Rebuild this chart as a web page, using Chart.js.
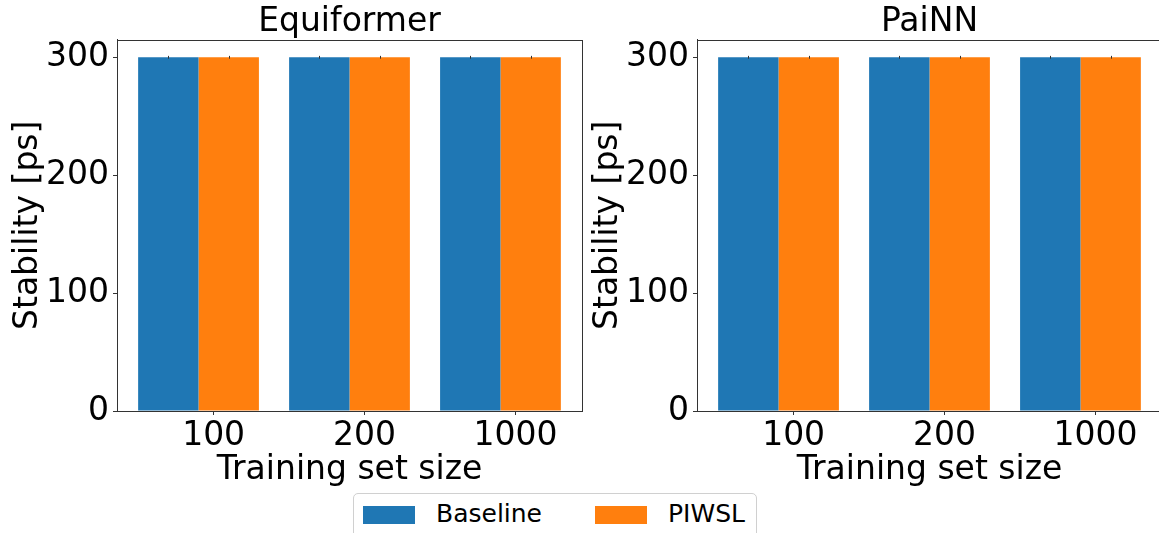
<!DOCTYPE html>
<html>
<head>
<meta charset="utf-8">
<script src="https://cdn.jsdelivr.net/npm/chart.js@4.4.0/dist/chart.umd.min.js"></script>
<style>
  body { margin: 0; width: 1159px; height: 533px; overflow: hidden; background: #fff; position: relative; font-family: "DejaVu Sans", sans-serif; }
  .box { position: absolute; top: 0; width: 590px; height: 490px; }
  #legend { position: absolute; left: 353px; top: 493px; width: 402px; height: 50px; border: 1px solid #d0d0d0; border-radius: 5px; background: #fff; }
  .sw { position: absolute; top: 12px; width: 52px; height: 18px; }
  .lt { position: absolute; top: 5px; font-size: 25px; color: #000; line-height: 30px; }
</style>
</head>
<body>
<div class="box" style="left:0px"><canvas id="chartA"></canvas></div>
<div class="box" style="left:580px"><canvas id="chartB"></canvas></div>
<div id="legend">
  <div class="sw" style="left:9px;background:#1f77b4"></div><div class="lt" style="left:82px">Baseline</div>
  <div class="sw" style="left:241px;background:#ff7f0e"></div><div class="lt" style="left:314px">PIWSL</div>
</div>
<script>
const categories = ['100', '200', '1000'];
const yTicks = [0, 100, 200, 300];

const equiBaseline = [300, 300, 300];
const equiPiwsl = [300, 300, 300];
const equiBaselineErr = [1.2, 1.2, 1.2];
const equiPiwslErr = [1.2, 1.2, 1.2];

const painnBaseline = [300, 300, 300];
const painnPiwsl = [300, 300, 300];
const painnBaselineErr = [1.2, 1.2, 1.2];
const painnPiwslErr = [1.2, 1.2, 1.2];

const FONT = 'DejaVu Sans';
const axisColor = '#333333';
// the x tick sits a little right of the group centre in the original
const tickShift = 0.1;

// frame round the plot area, like matplotlib spines
const framePlugin = {
  id: 'frame',
  afterDraw(chart) {
    const a = chart.chartArea, c = chart.ctx;
    c.save();
    c.strokeStyle = axisColor;
    c.lineWidth = 1;
    c.strokeRect(Math.round(a.left) + 0.5, Math.round(a.top) + 0.5, Math.round(a.right - a.left), Math.round(a.bottom - a.top));
    c.restore();
  }
};

// small error bars at the top of each bar
const errPlugin = {
  id: 'errbars',
  afterDatasetsDraw(chart) {
    const c = chart.ctx, ys = chart.scales.y;
    c.save();
    c.strokeStyle = axisColor;
    c.lineWidth = 1;
    chart.data.datasets.forEach((ds, i) => {
      const meta = chart.getDatasetMeta(i);
      meta.data.forEach((el, j) => {
        const v = ds.data[j].y, e = ds.err[j];
        const x = Math.round(el.x) + 0.5;
        c.beginPath();
        c.moveTo(x, ys.getPixelForValue(v + e));
        c.lineTo(x, ys.getPixelForValue(v - e));
        c.stroke();
      });
    });
    c.restore();
  }
};

function makeChart(id, title, base, piwsl, baseErr, piwslErr) {
  return new Chart(document.getElementById(id), {
    type: 'bar',
    data: {
      datasets: [
        { label: 'Baseline', data: base.map((v, i) => ({ x: i, y: v })), err: baseErr,
          backgroundColor: '#1f77b4', borderWidth: 0, categoryPercentage: 0.8, barPercentage: 1.0 },
        { label: 'PIWSL', data: piwsl.map((v, i) => ({ x: i, y: v })), err: piwslErr,
          backgroundColor: '#ff7f0e', borderWidth: 0, categoryPercentage: 0.8, barPercentage: 1.0 }
      ]
    },
    options: {
      responsive: true,
      maintainAspectRatio: false,
      animation: false,
      layout: { padding: { left: 0, right: 8, top: 0, bottom: 0 } },
      plugins: {
        legend: { display: false },
        tooltip: { enabled: false },
        title: {
          display: true,
          text: title,
          fullSize: false,
          color: '#000',
          font: { family: FONT, size: 33, weight: 'normal' },
          padding: { top: 3, bottom: -3 }
        }
      },
      scales: {
        x: {
          type: 'linear',
          min: -0.54,
          max: 2.54,
          offset: false,
          afterBuildTicks(scale) { scale.ticks = categories.map((c, i) => ({ value: i + tickShift })); },
          afterFit(scale) { scale.height = 79; },
          grid: { offset: false, drawOnChartArea: false, drawTicks: true, tickLength: 4, color: axisColor },
          border: { display: true, color: axisColor },
          ticks: {
            color: '#000',
            padding: 2,
            maxRotation: 0,
            font: { family: FONT, size: 33 },
            callback: (v, i) => categories[i]
          },
          title: {
            display: true,
            text: 'Training set size',
            color: '#000',
            font: { family: FONT, size: 33 },
            padding: { top: 0, bottom: 0 }
          }
        },
        y: {
          min: 0,
          max: 315,
          afterBuildTicks(scale) { scale.ticks = yTicks.map(v => ({ value: v })); },
          afterFit(scale) { scale.width = 117; },
          grid: { offset: false, drawOnChartArea: false, drawTicks: true, tickLength: 4, color: axisColor },
          border: { display: true, color: axisColor },
          ticks: {
            color: '#000',
            padding: 4,
            font: { family: FONT, size: 33 }
          },
          title: {
            display: true,
            text: 'Stability [ps]',
            color: '#000',
            font: { family: FONT, size: 33 },
            padding: { top: 9, bottom: 0 }
          }
        }
      }
    },
    plugins: [framePlugin, errPlugin]
  });
}

makeChart('chartA', 'Equiformer', equiBaseline, equiPiwsl, equiBaselineErr, equiPiwslErr);
makeChart('chartB', 'PaiNN', painnBaseline, painnPiwsl, painnBaselineErr, painnPiwslErr);
</script>
</body>
</html>
